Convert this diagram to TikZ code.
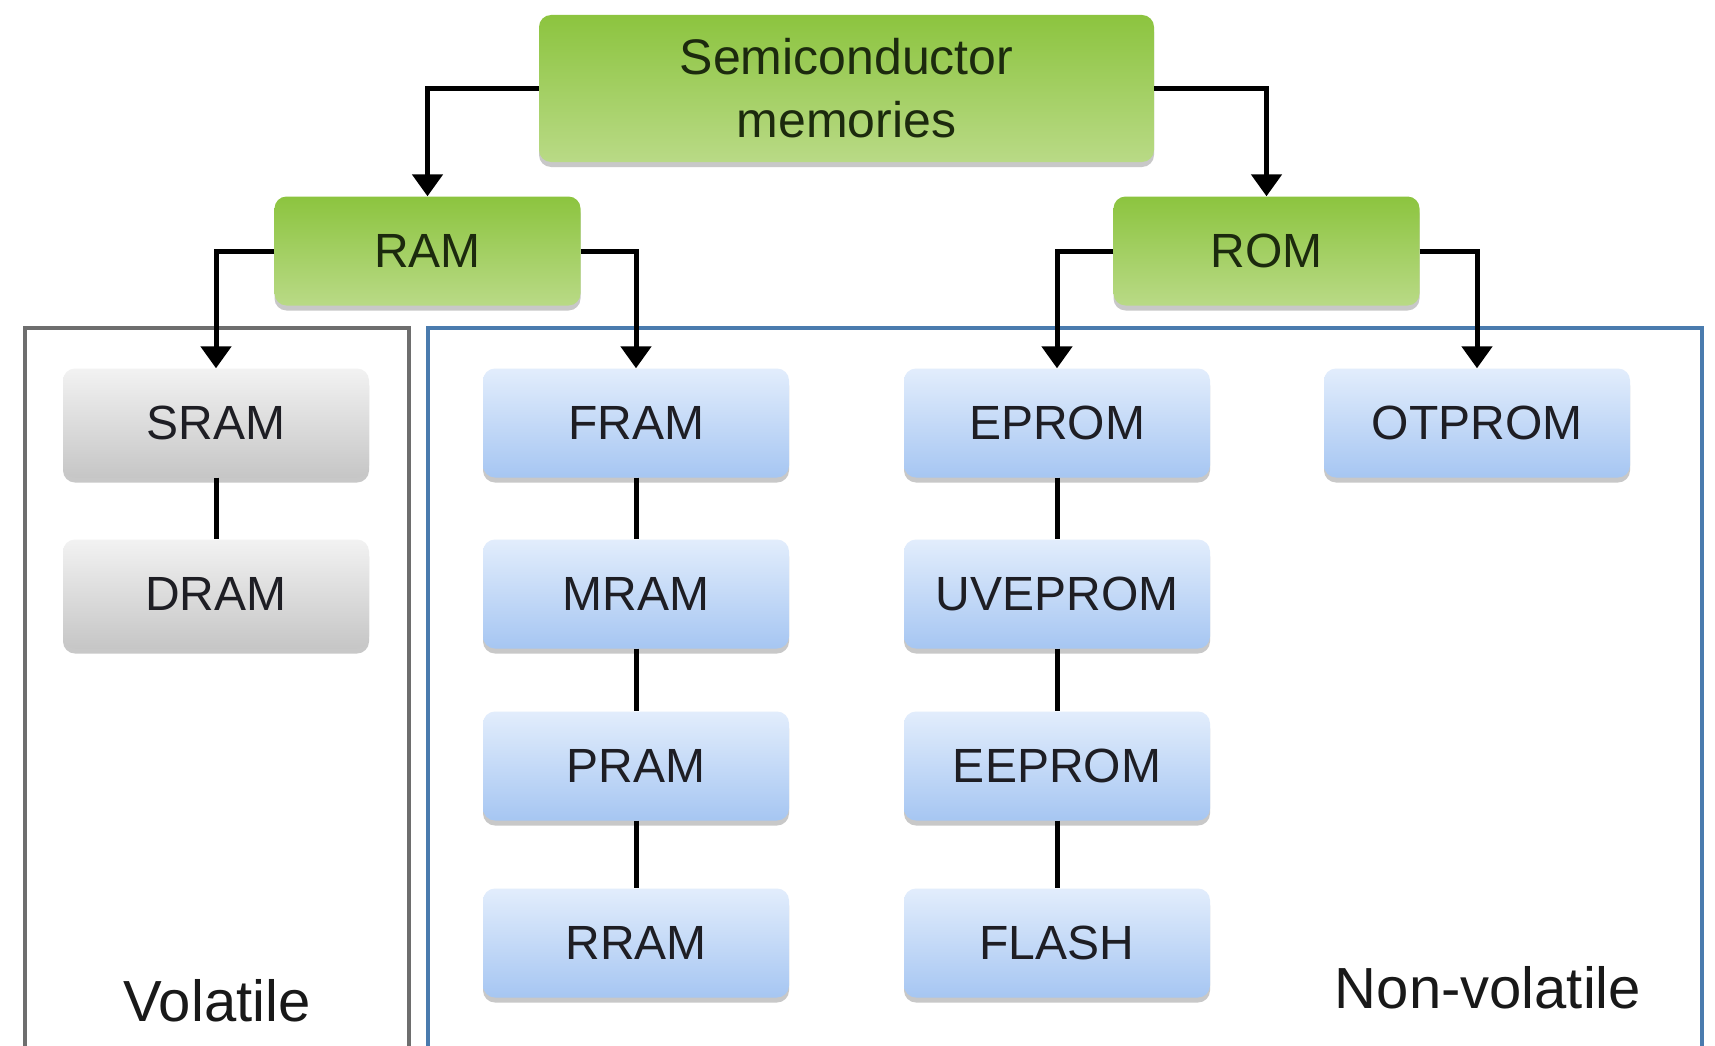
\documentclass[tikz,border=0pt]{standalone}
\usepackage{fontspec}
\setmainfont{Liberation Sans}
\usetikzlibrary{arrows.meta,shadows}
\definecolor{gTop}{HTML}{8CC43F}
\definecolor{gBot}{HTML}{B9DA86}
\definecolor{gTxt}{HTML}{1C2A0E}
\definecolor{sTop}{HTML}{F2F2F2}
\definecolor{sBot}{HTML}{C6C6C6}
\definecolor{bTop}{HTML}{E2EDFC}
\definecolor{bBot}{HTML}{A6C6F2}
\definecolor{txt}{HTML}{1E1E24}
\definecolor{volC}{HTML}{6E6E6E}
\definecolor{nvC}{HTML}{4A7BAE}
\begin{document}
\begin{tikzpicture}[x=1pt,y=-1pt,
  box/.style={rounded corners=12pt, minimum width=306pt, minimum height=109pt,
    inner sep=0pt, font=\fontsize{48}{56}\selectfont, text=txt,
    drop shadow={shadow xshift=0pt, shadow yshift=-5pt, opacity=0.3, fill=black!70}},
  greenbox/.style={box, top color=gTop, bottom color=gBot, text=gTxt},
  graybox/.style={box, top color=sTop, bottom color=sBot},
  bluebox/.style={box, top color=bTop, bottom color=bBot},
  arr/.style={line width=5pt, line join=miter, -{Triangle[width=30pt,length=22pt]}},
  lnk/.style={line width=5pt},
  lbl/.style={font=\fontsize{58}{66}\selectfont, text=black!90, inner sep=0pt},
  volframe/.style={draw=volC, line width=3.5pt},
  nvframe/.style={draw=nvC, line width=3.5pt}
]
\useasboundingbox[fill=white] (0,0) rectangle (1715,1046);
% frames (their bottom edges run off the page, as in the reference)
\draw[volframe] (25,1060) |- (409,328) -- (409,1060);
\draw[nvframe] (428,1060) |- (1702,328) -- (1702,1060);
% top level
\node[greenbox, minimum width=615pt, minimum height=147pt, align=center,
      font=\fontsize{50}{63}\selectfont] (semi) at (846.5,88.5) {Semiconductor\\memories};
\node[greenbox] (ram) at (427.5,251) {RAM};
\node[greenbox] (rom) at (1266.5,251) {ROM};
% volatile
\node[graybox] (sram) at (216,423) {SRAM};
\node[graybox] (dram) at (216,594) {DRAM};
% non-volatile RAM column
\node[bluebox] (fram) at (636,423) {FRAM};
\node[bluebox] (mram) at (636,594) {MRAM};
\node[bluebox] (pram) at (636,766) {PRAM};
\node[bluebox] (rram) at (636,943) {RRAM};
% ROM column
\node[bluebox] (eprom) at (1057,423) {EPROM};
\node[bluebox] (uveprom) at (1057,594) {UVEPROM};
\node[bluebox] (eeprom) at (1057,766) {EEPROM};
\node[bluebox] (flash) at (1057,943) {FLASH};
\node[bluebox] (otprom) at (1477,423) {OTPROM};
% labels
\node[lbl] (vol) at (217,1001) {Volatile};
\node[lbl] (nonvol) at (1488,988) {Non-volatile};
% arrows
\draw[arr] (semi.west) -| (ram.north);
\draw[arr] (semi.east) -| (rom.north);
\draw[arr] (ram.west) -| (sram.north);
\draw[arr] (ram.east) -| (fram.north);
\draw[arr] (rom.west) -| (eprom.north);
\draw[arr] (rom.east) -| (otprom.north);
% links
\draw[lnk] (sram) -- (dram);
\draw[lnk] (fram) -- (mram);
\draw[lnk] (mram) -- (pram);
\draw[lnk] (pram) -- (rram);
\draw[lnk] (eprom) -- (uveprom);
\draw[lnk] (uveprom) -- (eeprom);
\draw[lnk] (eeprom) -- (flash);
\end{tikzpicture}
\end{document}
